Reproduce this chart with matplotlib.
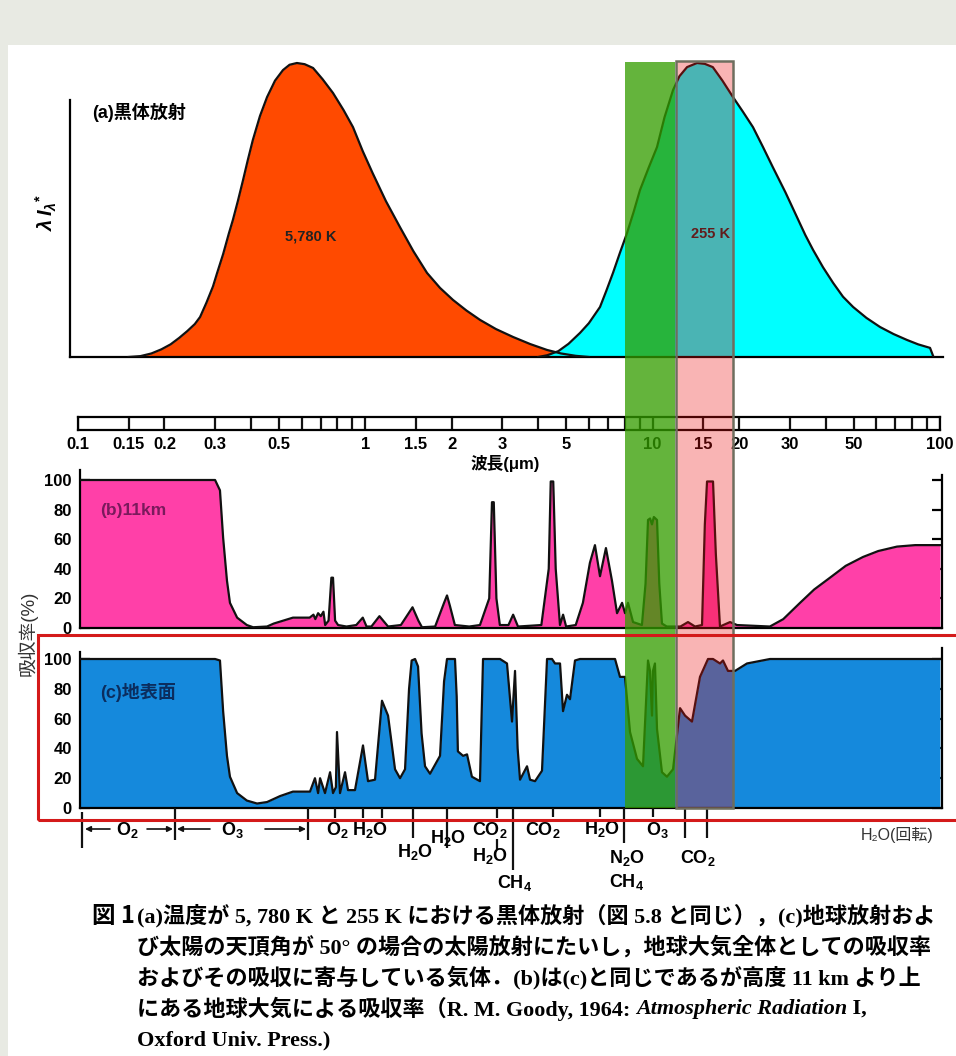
import matplotlib
matplotlib.use('Agg')
import matplotlib.pyplot as plt
from matplotlib.patches import Rectangle
import math

W, H = 956, 1056
plt.rcParams['font.family'] = ['Liberation Sans', 'Noto Sans CJK JP', 'DejaVu Sans']
plt.rcParams['mathtext.fontset'] = 'custom'
plt.rcParams['mathtext.rm'] = 'Liberation Sans:bold'
plt.rcParams['mathtext.it'] = 'Liberation Sans:italic:bold'
plt.rcParams['mathtext.bf'] = 'Liberation Sans:bold'

# ---------------- data ----------------
# (a) black body, lambda*I_lambda normalised
sun_wl = [0.15, 0.165, 0.18, 0.195, 0.21, 0.225, 0.24, 0.255, 0.266, 0.28, 0.295, 0.305, 0.32,
          0.335, 0.346, 0.36, 0.375, 0.39, 0.406, 0.43, 0.455, 0.485, 0.517, 0.545, 0.578, 0.615,
          0.658, 0.71, 0.772, 0.84, 0.906, 0.98, 1.06, 1.18, 1.32, 1.47, 1.64, 1.82, 2.02, 2.25,
          2.51, 2.85, 3.27, 3.75, 4.29, 4.8, 5.4, 6.0]
sun_val = [0.0, 0.003, 0.012, 0.026, 0.043, 0.065, 0.088, 0.112, 0.136, 0.185, 0.24, 0.286, 0.35,
           0.42, 0.466, 0.53, 0.60, 0.67, 0.738, 0.82, 0.884, 0.94, 0.976, 0.994, 1.0, 0.996,
           0.983, 0.945, 0.898, 0.84, 0.782, 0.70, 0.626, 0.53, 0.442, 0.36, 0.286, 0.235, 0.194,
           0.158, 0.126, 0.095, 0.068, 0.044, 0.024, 0.012, 0.004, 0.0]
earth_wl = [4.0, 4.3, 4.7, 5.1, 5.59, 6.0, 6.56, 6.9, 7.28, 7.7, 8.15, 8.6, 9.04, 9.7, 10.36, 11.0,
            11.78, 12.4, 13.18, 14.28, 15.2, 16.2, 17.5, 19.05, 20.6, 22.35, 24.2, 26.2, 29.0,
            31.8, 34.0, 36.2, 39.2, 42.5, 46.0, 49.9, 55.5, 61.9, 69.0, 76.8, 84.0, 92.4, 95.0]
earth_val = [0.0, 0.006, 0.02, 0.045, 0.082, 0.115, 0.170, 0.225, 0.286, 0.355, 0.422, 0.495,
             0.568, 0.645, 0.714, 0.815, 0.908, 0.955, 0.986, 1.0, 0.997, 0.986, 0.94, 0.884,
             0.835, 0.782, 0.715, 0.646, 0.56, 0.476, 0.415, 0.364, 0.305, 0.252, 0.205, 0.170,
             0.133, 0.102, 0.078, 0.058, 0.043, 0.031, 0.0]

# wavelength scale
scale_ticks = [0.1, 0.15, 0.2, 0.3, 0.4, 0.5, 0.6, 0.7, 0.8, 0.9, 1, 1.5, 2, 3, 4, 5, 6, 7, 8, 9,
               10, 15, 20, 30, 40, 50, 60, 70, 80, 90, 100]
scale_label_vals = [0.1, 0.15, 0.2, 0.3, 0.5, 1, 1.5, 2, 3, 5, 10, 15, 20, 30, 50, 100]
scale_label_text = ['0.1', '0.15', '0.2', '0.3', '0.5', '1', '1.5', '2', '3', '5', '10', '15', '20',
                    '30', '50', '100']

# (b) absorption above 11 km (%)
b_wl = [0.1, 0.30, 0.312, 0.320, 0.330, 0.338, 0.358, 0.387, 0.407, 0.455, 0.48, 0.56, 0.64, 0.66,
        0.67, 0.685, 0.70, 0.715, 0.725, 0.745, 0.762, 0.772, 0.785, 0.804, 0.86, 0.93, 0.98, 1.01,
        1.05, 1.12, 1.20, 1.33, 1.46, 1.53, 1.575, 1.75, 1.88, 1.925, 1.97, 2.05, 2.3, 2.507, 2.70,
        2.76, 2.80, 2.86, 2.94, 3.15, 3.27, 3.40, 4.1, 4.35, 4.42, 4.51, 4.60, 4.76, 4.88, 5.0, 5.4,
        5.72, 6.05, 6.30, 6.56, 6.88, 7.22, 7.52, 7.83, 8.02, 8.21, 8.55, 9.18, 9.45, 9.64, 9.8,
        9.95, 10.1, 10.36, 10.55, 10.78, 11.2, 11.78, 12.5, 13.28, 14.05, 14.86, 15.2, 15.47, 16.23,
        16.6, 17.16, 18.6, 19.67, 25.6, 28.5, 32.6, 36.5, 41.45, 47.0, 54.0, 61.0, 70.9, 82.0, 100]
b_val = [100, 100, 93, 61, 32, 17, 7, 2, 0.5, 1, 3, 7, 7, 9,
         6, 10, 8, 11, 2, 5, 34, 34, 5, 2, 1, 2, 7, 1,
         1, 8, 1, 2, 14, 5, 0.5, 1, 17, 22, 15, 2, 1, 2, 20,
         85, 85, 20, 2, 2, 9, 1, 2, 40, 99, 99, 40, 2, 9, 1, 2,
         17, 44, 56, 35, 54, 32, 10, 17, 10, 17, 4, 2, 30, 73, 74,
         70, 75, 73, 30, 3, 1, 1, 1, 4, 1, 2, 70, 99, 99,
         50, 1, 4, 2, 1, 6, 17, 26, 34, 42, 48, 52, 55, 56, 56]

# (c) absorption, whole atmosphere (%)
c_wl = [0.1, 0.30, 0.312, 0.320, 0.330, 0.338, 0.358, 0.387, 0.420, 0.455, 0.505, 0.560, 0.642,
        0.668, 0.685, 0.696, 0.724, 0.754, 0.772, 0.790, 0.797, 0.8165, 0.850, 0.8706, 0.9207,
        0.9817, 1.022, 1.081, 1.143, 1.200, 1.269, 1.321, 1.375, 1.42, 1.45, 1.49, 1.526, 1.57,
        1.614, 1.680, 1.820, 1.88, 1.925, 2.052, 2.08, 2.10, 2.19, 2.26, 2.35, 2.507, 2.569, 2.944,
        3.113, 3.241, 3.32, 3.39, 3.456, 3.655, 3.745, 3.898, 4.121, 4.291, 4.466, 4.575, 4.762,
        4.878, 5.035, 5.158, 5.369, 5.588, 7.40, 7.70, 8.015, 8.344, 8.825, 9.259, 9.638, 9.795,
        9.952, 10.03, 10.19, 10.36, 10.78, 11.22, 11.78, 12.46, 12.97, 13.71, 14.62, 15.59, 16.23,
        17.16, 17.58, 18.30, 19.36, 21.31, 25.62, 100]
c_val = [100, 100, 99, 65, 35, 21, 10, 5, 3, 4, 8, 11, 11,
         20, 10, 20, 10, 24, 10, 14, 51, 10, 24, 12, 12,
         42, 18, 19, 72, 62, 26, 20, 26, 80, 99, 100, 95, 50,
         28, 23, 35, 85, 100, 100, 75, 38, 35, 36, 21, 18, 100, 100,
         97, 58, 92, 40, 19, 28, 19, 18, 25, 100, 100, 97, 97,
         65, 76, 73, 99, 100, 100, 88, 88, 51, 33, 28, 99, 92,
         62, 92, 97, 53, 24, 21, 26, 67, 62, 58, 88, 100, 100,
         97, 99, 92, 92, 97, 100, 100]

# absorbing-gas band marks
gas_tick_wl = [0.1033, 0.2176, 0.632, 0.784, 0.982, 1.143, 1.466, 1.93, 2.873, 3.267, 4.50,
               6.559, 7.95, 10.03, 12.97, 15.47]
gas_tick_len = [40, 32, 32, 10, 10, 10, 30, 40, 10, 62, 9, 9, 35, 9, 30, 30]
gas_names = ['O$_2$', 'O$_3$', 'O$_2$', 'H$_2$O', 'H$_2$O', 'H$_2$O', 'CO$_2$', 'H$_2$O', 'CH$_4$',
             'CO$_2$', 'H$_2$O', 'N$_2$O', 'CH$_4$', 'O$_3$', 'CO$_2$']
gas_wl = [0.1481, 0.3436, 0.797, 1.038, 1.489, 1.940, 2.716, 2.716, 3.320, 4.155, 6.665, 8.145,
          8.145, 10.36, 14.39]
gas_row = [830, 830, 830, 830, 852, 838, 830, 856, 883, 830, 829, 858, 882, 830, 858]

# green / pink highlight bands (micrometres)
green_band = (8.0, 12.0)
pink_band = (12.1, 19.1)


# ---------------- helpers ----------------
def lam(px):
    return 0.1 * 10 ** ((px - 78) / 287.3)


fig = plt.figure(figsize=(W / 100, H / 100), dpi=100)
fig.patch.set_facecolor('white')


def add_ax(x0, y0, x1, y1):
    ax = fig.add_axes([x0 / W, 1 - y1 / H, (x1 - x0) / W, (y1 - y0) / H])
    ax.set_facecolor('none')
    return ax


def fpos(px, py):
    return (px / W, 1 - py / H)


def ftext(ax, px, py, s, **kw):
    return ax.text(*fpos(px, py), s, transform=fig.transFigure, **kw)


# background decoration
fig.add_artist(Rectangle((0, 1 - 45 / H), 1, 45 / H, transform=fig.transFigure,
                         facecolor='#E8EAE3', edgecolor='none', zorder=0.5))
fig.add_artist(Rectangle((0, 0), 8 / W, 1, transform=fig.transFigure,
                         facecolor='#E8EAE3', edgecolor='none', zorder=0.5))

# ---------------- (a) ----------------
axa = add_ax(70, 55, 943, 357)
axa.set_xscale('log')
axa.set_xlim(lam(70), lam(943))
axa.set_ylim(0, (357 - 55) / 294)
axa.fill_between(sun_wl, 0, sun_val, color='#FF4A00', lw=0, zorder=2)
axa.plot(sun_wl, sun_val, color='#111111', lw=1.6, zorder=3)
axa.fill_between(earth_wl, 0, earth_val, color='#00FFFF', lw=0, zorder=2)
axa.plot(earth_wl, earth_val, color='#111111', lw=1.6, zorder=3)
for s in ('top', 'right'):
    axa.spines[s].set_visible(False)
axa.spines['left'].set_bounds(0, (357 - 100) / 294)
axa.spines['left'].set_linewidth(1.6)
axa.spines['bottom'].set_linewidth(1.6)
axa.tick_params(which='both', length=0, labelbottom=False, labelleft=False)
ftext(axa, 92, 112, '(a)黒体放射', fontsize=13, fontweight='bold', va='center', ha='left')
ftext(axa, 311, 237, '5,780 K', fontsize=10.5, fontweight='bold', va='center', ha='center', color='#222')
ftext(axa, 711, 234, '255 K', fontsize=10.5, fontweight='bold', va='center', ha='center', color='#222')
ftext(axa, 46, 213, r'$\lambda\, I_\lambda{}^{*}$', fontsize=14.5, rotation=90, va='center', ha='center')

# ---------------- wavelength scale ----------------
axs = add_ax(78, 417, 940, 430)
axs.set_xscale('log')
axs.set_xlim(0.1, 100)
axs.set_ylim(0, 1)
axs.vlines(scale_ticks, 0, 1, color='#111', lw=1.6)
for s in axs.spines.values():
    s.set_linewidth(1.6)
axs.set_yticks([])
axs.set_xticks(scale_label_vals)
axs.set_xticklabels(scale_label_text)
axs.xaxis.set_minor_locator(matplotlib.ticker.NullLocator())
axs.tick_params(axis='x', length=0, pad=5, labelsize=12)
for t in axs.get_xticklabels():
    t.set_fontweight('bold')
ftext(axs, 505, 463, '波長(μm)', fontsize=12, fontweight='bold', ha='center', va='center')


# ---------------- (b), (c) ----------------
def abs_panel(y_top, y0, y100, wl, val, color, spine_top):
    ax = add_ax(80, y_top, 942, y0)
    ppu = (y0 - y100) / 100.0
    ax.set_xscale('log')
    ax.set_xlim(lam(80), lam(942))
    ax.set_ylim(0, (y0 - y_top) / ppu)
    ax.fill_between(wl, 0, val, color=color, lw=0, zorder=2)
    ax.plot(wl, val, color='#111', lw=1.6, zorder=3)
    ax.spines['top'].set_visible(False)
    for s in ('left', 'right', 'bottom'):
        ax.spines[s].set_linewidth(1.6)
    ax.spines['left'].set_bounds(0, (y0 - spine_top) / ppu)
    ax.set_xticks([])
    ax.xaxis.set_minor_locator(matplotlib.ticker.NullLocator())
    ax.set_yticks([0, 20, 40, 60, 80, 100])
    ax.tick_params(axis='y', direction='in', length=7, width=1.6, right=True, labelright=False,
                   labelsize=12, pad=6)
    for t in ax.get_yticklabels():
        t.set_fontweight('bold')
    return ax


axb = abs_panel(475, 628, 480, b_wl, b_val, '#FF40A8', 470)
ftext(axb, 100, 510, '(b)11km', fontsize=12.5, fontweight='bold', va='center', ha='left', color='#7A1A5C')
axc = abs_panel(648, 808, 659, c_wl, c_val, '#1589DC', 652)
ftext(axc, 100, 692, '(c)地表面', fontsize=13, fontweight='bold', va='center', ha='left', color='#0B2D5E')
fig.text(*fpos(28, 633), '吸収率(%)', fontsize=13.5, rotation=90, ha='center', va='center', color='#333')

# ---------------- gas labels ----------------
axg = add_ax(80, 808, 942, 900)
axg.set_xscale('log')
axg.set_xlim(lam(80), lam(942))
axg.set_ylim(900, 808)
axg.axis('off')
for w, L in zip(gas_tick_wl, gas_tick_len):
    top = 808 if w > 0.15 else 812
    axg.vlines(w, top, 808 + L, color='#111', lw=1.6)
axg.vlines(2.873, 839, 849, color='#111', lw=1.6)
for n, w, r in zip(gas_names, gas_wl, gas_row):
    axg.text(w, r, n, fontsize=13, fontweight='bold', ha='center', va='center')
arrow_kw = dict(arrowstyle='-|>', lw=1.2, color='#111', mutation_scale=8, shrinkA=0, shrinkB=0)
for a, b in [(0.1292, 0.1058), (0.1739, 0.2141), (0.2880, 0.2211), (0.4476, 0.6218)]:
    axg.annotate('', xy=(b, 829), xytext=(a, 829), arrowprops=arrow_kw)
axg.text(70.9, 835, 'H₂O(回転)', fontsize=11.5, ha='center', va='center', color='#333',
         family=['Liberation Sans', 'DejaVu Sans', 'Noto Sans CJK JP'])


# ---------------- highlight bands ----------------
def band_px(w0, w1):
    x0 = 78 + 287.3 * math.log10(w0 / 0.1)
    x1 = 78 + 287.3 * math.log10(w1 / 0.1)
    return x0, x1


gx0, gx1 = band_px(*green_band)
fig.add_artist(Rectangle(fpos(gx0, 808), (gx1 - gx0) / W, (808 - 62) / H, transform=fig.transFigure,
                         facecolor=(52 / 255, 157 / 255, 0), alpha=0.765, edgecolor='none', zorder=5))
px0, px1 = band_px(*pink_band)
fig.add_artist(Rectangle(fpos(px0, 808), (px1 - px0) / W, (808 - 61) / H, transform=fig.transFigure,
                         facecolor=(239 / 255, 16 / 255, 16 / 255), alpha=0.314, edgecolor='none', zorder=5))
fig.add_artist(Rectangle(fpos(px0, 808), (px1 - px0) / W, (808 - 61) / H, transform=fig.transFigure,
                         facecolor='none', edgecolor='#6E6E5E', lw=1.8, zorder=6))
# red frame
fig.add_artist(Rectangle(fpos(38, 820), (960 - 38) / W, (820 - 635) / H, transform=fig.transFigure,
                         facecolor='none', edgecolor='#D41A1A', lw=2.2, zorder=6))

# ---------------- caption ----------------
cap_fam = ['Liberation Serif', 'Noto Sans CJK JP']
cap_kw = dict(fontsize=15.9, fontweight='bold', va='center', ha='left', family=cap_fam)
fig.text(*fpos(92, 916), '図 1', fontsize=17, fontweight='bold', va='center', ha='left',
         family=['Noto Sans CJK JP'])
cap_lines = ['(a)温度が 5, 780 K と 255 K における黒体放射（図 5.8 と同じ），(c)地球放射およ',
             'び太陽の天頂角が 50° の場合の太陽放射にたいし，地球大気全体としての吸収率',
             'およびその吸収に寄与している気体．(b)は(c)と同じであるが高度 11 km より上']
for i, s in enumerate(cap_lines):
    fig.text(*fpos(137, 916 + 31 * i), s, **cap_kw)

renderer = fig.canvas.get_renderer()
x = 137
for seg, style in [('にある地球大気による吸収率（R. M. Goody, 1964: ', 'normal'),
                   ('Atmospheric Radiation', 'italic'), (' I,', 'normal')]:
    t = fig.text(*fpos(x, 1009), seg, style=style, **cap_kw)
    bb = t.get_window_extent(renderer)
    x += bb.width
fig.text(*fpos(137, 1040), 'Oxford Univ. Press.)', **cap_kw)

fig.savefig('out.png', dpi=100)
